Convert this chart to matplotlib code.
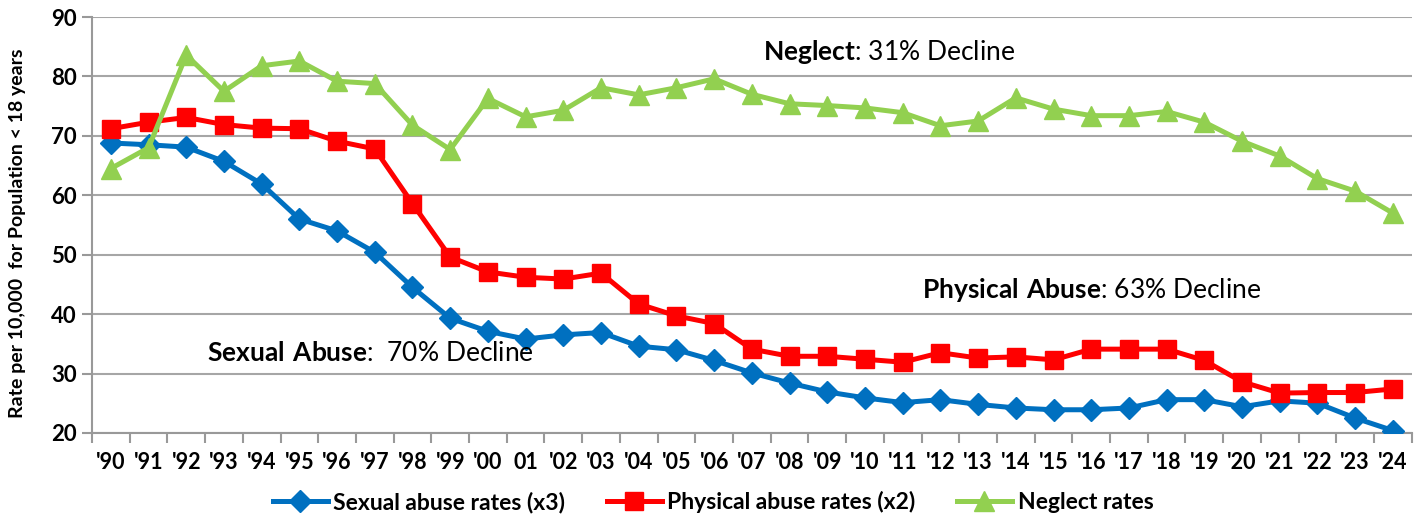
import matplotlib.pyplot as plt
from matplotlib.ticker import FixedLocator

years = ["'90", "'91", "'92", "'93", "'94", "'95", "'96", "'97", "'98", "'99",
         "'00", "01", "'02", "'03", "'04", "'05", "'06", "'07", "'08", "'09",
         "'10", "'11", "'12", "'13", "'14", "'15", "'16", "'17", "'18", "'19",
         "'20", "'21", "'22", "'23", "'24"]

sexual = [68.8, 68.5, 68.1, 65.7, 61.9, 56.0, 54.0, 50.4, 44.5, 39.3,
          37.1, 35.8, 36.5, 36.9, 34.6, 34.0, 32.2, 30.1, 28.4, 26.9,
          25.9, 25.1, 25.6, 24.8, 24.2, 23.9, 23.9, 24.2, 25.6, 25.6,
          24.4, 25.4, 25.0, 22.5, 20.4]

physical = [71.2, 72.3, 73.1, 71.9, 71.3, 71.2, 69.1, 67.8, 58.6, 49.6,
            47.1, 46.2, 45.9, 46.9, 41.7, 39.7, 38.4, 34.1, 32.9, 32.9,
            32.4, 31.9, 33.5, 32.6, 32.8, 32.3, 34.1, 34.1, 34.1, 32.2,
            28.6, 26.7, 26.8, 26.8, 27.4]

neglect = [64.5, 68.0, 83.6, 77.5, 81.8, 82.6, 79.2, 78.8, 71.8, 67.7,
           76.3, 73.2, 74.3, 78.1, 76.9, 78.1, 79.6, 77.0, 75.4, 75.1,
           74.7, 73.9, 71.7, 72.5, 76.4, 74.5, 73.4, 73.4, 74.1, 72.3,
           69.1, 66.6, 62.8, 60.7, 57.0]

plt.rcParams['font.family'] = ['Lato', 'DejaVu Sans']
plt.rcParams['mathtext.fontset'] = 'custom'
plt.rcParams['mathtext.rm'] = 'Lato'
plt.rcParams['mathtext.bf'] = 'Lato:bold'

fig = plt.figure(figsize=(14.26, 5.16), dpi=100)
ax = fig.add_axes([0.0645, 0.161, 0.9255, 0.806])

x = list(range(len(years)))
ax.plot(x, sexual, color='#0070C0', lw=3.6, marker='D', ms=11, label='Sexual abuse rates (x3)', zorder=3)
ax.plot(x, physical, color='#FF0000', lw=3.6, marker='s', ms=13, label='Physical abuse rates (x2)', zorder=3)
ax.plot(x, neglect, color='#92D050', lw=3.6, marker='^', ms=14, label='Neglect rates', zorder=3)

ax.set_xlim(-0.5, len(years) - 0.5)
ax.set_ylim(20, 90)
ax.set_yticks(range(20, 91, 10))
ax.set_xticks(x)
ax.set_xticklabels(years, fontsize=15.5, fontweight='bold')
ax.xaxis.set_minor_locator(FixedLocator([i - 0.5 for i in range(len(years) + 1)]))
ax.tick_params(axis='x', which='major', length=0, pad=14)
ax.tick_params(axis='x', which='minor', length=7, width=1.5, color='#999999', direction='out')
ax.tick_params(axis='y', length=7, width=1.5, color='#999999', labelsize=16, pad=4)
for lbl in ax.get_yticklabels():
    lbl.set_fontweight('bold')

ax.yaxis.grid(True, color='#A6A6A6', lw=1.5)
ax.set_axisbelow(True)
for s in ['top', 'right']:
    ax.spines[s].set_visible(False)
for s in ['left', 'bottom']:
    ax.spines[s].set_color('#999999')
    ax.spines[s].set_linewidth(1.5)

ax.set_ylabel('Rate per 10,000  for Population < 18 years', fontsize=14, fontweight='bold')
ax.yaxis.set_label_coords(-0.05, 0.48)

ax.text(17.3, 84.1, r'$\bf{Neglect}$: 31% Decline', fontsize=19, va='center', ha='left')
ax.text(21.5, 44.0, r'$\bf{Physical\ Abuse}$: 63% Decline', fontsize=19, va='center', ha='left')
ax.text(2.55, 33.3, r'$\bf{Sexual\ Abuse}$:  70% Decline', fontsize=19, va='center', ha='left')

fig.legend(loc='lower center', ncol=3, frameon=False, bbox_to_anchor=(0.5, -0.035),
           prop={'size': 16.5, 'weight': 'bold'}, columnspacing=1.8, handlelength=2.4, handletextpad=0.25)

plt.savefig('out.png', dpi=100)
